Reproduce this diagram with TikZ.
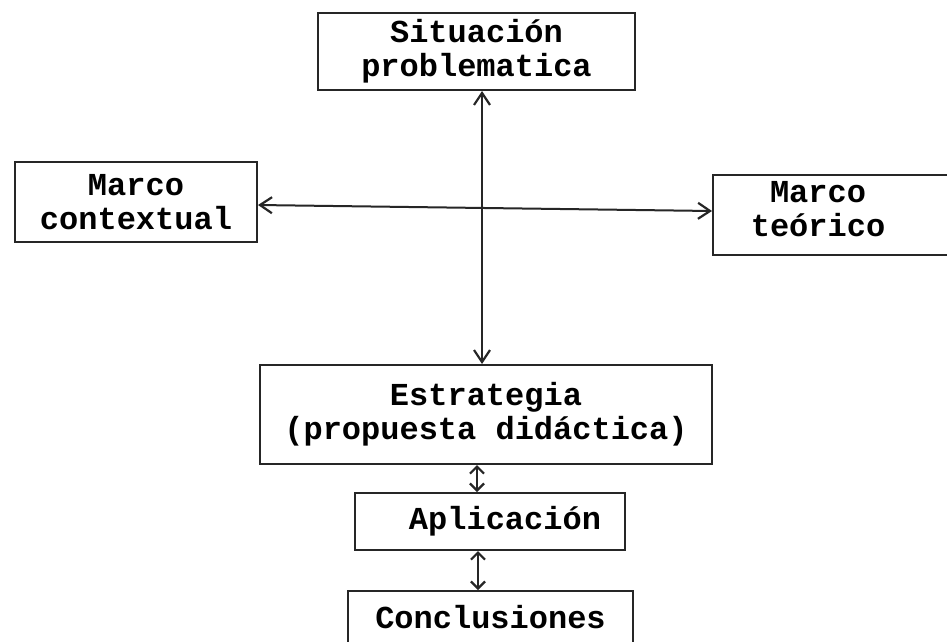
\documentclass[tikz,border=0pt]{standalone}
\usepackage{fontspec}
\setmainfont{Liberation Mono}
\usetikzlibrary{arrows.meta}
\tikzset{
  box/.style={draw=black!85, line width=2pt, inner sep=0pt, align=center,
    font=\bfseries\fontsize{32}{34}\selectfont},
  txt/.style={inner sep=0pt, align=center, font=\bfseries\fontsize{32}{34}\selectfont},
  link/.style={draw=black!85, line width=2pt,
    {Straight Barb[length=12pt,width=16pt,line width=2.2pt]}-{Straight Barb[length=12pt,width=16pt,line width=2.2pt]}},
  shortlink/.style={draw=black!85, line width=2pt,
    {Straight Barb[length=7pt,width=14pt,line width=2.2pt]}-{Straight Barb[length=7pt,width=14pt,line width=2.2pt]}}
}
\begin{document}
\begin{tikzpicture}[x=1pt,y=-1pt]
\clip (0,0) rectangle (947,641);
\fill[white] (0,0) rectangle (947,641);
% boxes
\node[box, minimum width=317pt, minimum height=77pt] (sit) at (476.5,51.5) {Situaci\'on\\problematica};
\node[box, minimum width=242pt, minimum height=80pt] (ctx) at (136,202) {Marco\\contextual};
\node[box, minimum width=247pt, minimum height=80pt] (teo) at (836.5,215) {};
\node[txt] (teot) at (818,209) {Marco\\te\'orico};
\node[box, minimum width=452pt, minimum height=99pt] (est) at (486,414.5) {Estrategia\\(propuesta did\'actica)};
\node[box, minimum width=270pt, minimum height=57pt] (apl) at (490,521.5) {\hspace*{30pt}Aplicaci\'on};
\node[box, minimum width=285pt, minimum height=52pt] (con) at (490.5,617) {Conclusiones};
% helper coordinates
\coordinate (vx) at (482,0);
\coordinate (hl) at (0,205);
\coordinate (hr) at (0,211);
\coordinate (ax1) at (477,0);
\coordinate (ax2) at (478,0);
% connectors
\draw[link] (sit.south -| vx) -- (est.north -| vx);
\draw[link] (ctx.east |- hl) -- (teo.west |- hr);
\draw[shortlink] (est.south -| ax1) -- (apl.north -| ax1);
\draw[shortlink] (apl.south -| ax2) -- (con.north -| ax2);
\end{tikzpicture}
\end{document}
